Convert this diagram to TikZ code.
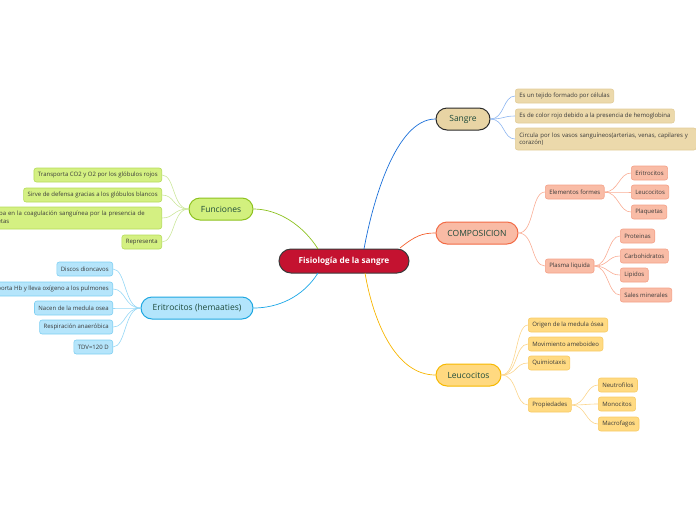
\documentclass[tikz,border=0pt]{standalone}
\usepackage{fontspec}
\setmainfont{Open Sans}
\hyphenpenalty=10000
\exhyphenpenalty=10000
\definecolor{centralfill}{HTML}{C41230}
\definecolor{centralline}{HTML}{3A3A3A}
\definecolor{maintxt}{HTML}{1D4A3A}
\definecolor{childtxt}{HTML}{3A3A3A}
% Sangre
\definecolor{sgfill}{HTML}{E8D4A4}
\definecolor{sgline}{HTML}{2A2A2A}
\definecolor{sgcfill}{HTML}{ECD9AB}
\definecolor{sgcline}{HTML}{E2CC98}
\definecolor{sgconn}{HTML}{1A6FD9}
\definecolor{sgcconn}{HTML}{8DB6F0}
% Composicion
\definecolor{cpfill}{HTML}{F9BBA5}
\definecolor{cpline}{HTML}{F26A45}
\definecolor{cpcfill}{HTML}{F9BCA6}
\definecolor{cpcline}{HTML}{F4A188}
\definecolor{cpconn}{HTML}{F4602E}
\definecolor{cpcconn}{HTML}{F9AD95}
% Leucocitos
\definecolor{lcfill}{HTML}{FFD980}
\definecolor{lcline}{HTML}{F6B800}
\definecolor{lccfill}{HTML}{FFDA82}
\definecolor{lccline}{HTML}{F8CB65}
\definecolor{lcconn}{HTML}{F7B500}
\definecolor{lccconn}{HTML}{FBD58C}
% Funciones
\definecolor{fnfill}{HTML}{D2F07E}
\definecolor{fnline}{HTML}{8DC21F}
\definecolor{fncfill}{HTML}{D4F082}
\definecolor{fncline}{HTML}{B5DC5A}
\definecolor{fnconn}{HTML}{8CC21F}
\definecolor{fncconn}{HTML}{CBE79A}
% Eritrocitos
\definecolor{erfill}{HTML}{B3E5FC}
\definecolor{erline}{HTML}{1EA7E1}
\definecolor{ercfill}{HTML}{B5E5FB}
\definecolor{ercline}{HTML}{7FCFF2}
\definecolor{erconn}{HTML}{1AA6E6}
\definecolor{ercconn}{HTML}{95D7F5}
\begin{document}
\begin{tikzpicture}[x=1pt,y=-1pt,
  childbox/.style={draw, rounded corners=2.5pt, minimum height=14pt, inner xsep=4pt, inner ysep=0pt,
    font=\fontsize{6}{7.6}\selectfont, text=childtxt, line width=0.6pt},
  mainbox/.style={draw, rounded corners=11pt, minimum height=22pt, inner sep=0pt, line width=1pt,
    font=\fontsize{8.5}{10}\selectfont, text=maintxt},
  sgc/.style={childbox, fill=sgcfill, draw=sgcline},
  cpc/.style={childbox, fill=cpcfill, draw=cpcline},
  lcc/.style={childbox, fill=lccfill, draw=lccline},
  fnc/.style={childbox, fill=fncfill, draw=fncline},
  erc/.style={childbox, fill=ercfill, draw=ercline},
  rconn/.style={line width=0.7pt},
  lk/.style={line width=0.6pt},
]
\useasboundingbox (0,0) rectangle (696,520);
\clip (0,0) rectangle (696,520);

% central
\node[draw=centralline, fill=centralfill, text=white, rounded corners=12pt, minimum width=130pt, minimum height=24pt,
  inner sep=0pt, line width=1pt, font=\fontsize{8.3}{10}\selectfont\bfseries] (c) at (344,261) {Fisiología de la sangre};

% main branches
\node[mainbox, fill=sgfill, draw=sgline, minimum width=54pt] (sg) at (463,119) {Sangre};
\node[mainbox, fill=cpfill, draw=cpline, minimum width=82pt] (cp) at (477,233) {COMPOSICION};
\node[mainbox, fill=lcfill, draw=lcline, minimum width=65pt] (lc) at (468.5,375) {Leucocitos};
\node[mainbox, fill=fnfill, draw=fnline, minimum width=64pt] (fn) at (221,209) {Funciones};
\node[mainbox, fill=erfill, draw=erline, minimum width=112pt] (er) at (197,308) {Eritrocitos (hemaaties)};

% main connectors
\coordinate (cs) at (364,249);
\coordinate (co) at (400,248);
\coordinate (cl) at (365,273);
\coordinate (cf) at (318,249);
\coordinate (ce) at (318,273);
\draw[rconn, sgconn] (cs) .. controls (372,205) and (395,119) .. (sg.west);
\draw[rconn, cpconn] (co) .. controls (415,236) and (422,233) .. (cp.west);
\draw[rconn, lcconn] (cl) .. controls (373,320) and (395,375) .. (lc.west);
\draw[rconn, fnconn] (cf) .. controls (303,225) and (278,209) .. (fn.east);
\draw[rconn, erconn] (ce) .. controls (303,297) and (278,308) .. (er.east);

% Sangre children
\node[sgc, anchor=west] (s1) at (515,96) {Es un tejido formado por células};
\node[sgc, anchor=west] (s2) at (515,116) {Es de color rojo debido a la presencia de hemoglobina};
\node[sgc, anchor=west, align=left, text width=173pt, inner ysep=2pt, minimum height=22pt] (s3) at (515,139)
  {Circula por los vasos sanguíneos(arterias, venas, capilares y corazón)};
\foreach \n in {s1,s2,s3}
  \draw[lk, sgcconn] (sg.east) .. controls +(14,0) and +(-12,0) .. (\n.west);

% Composicion children
\node[cpc, anchor=west] (ef) at (545,192) {Elementos formes};
\node[cpc, anchor=west] (pl) at (545,266) {Plasma liquida};
\foreach \n in {ef,pl}
  \draw[lk, cpcconn] (cp.east) .. controls +(16,0) and +(-14,0) .. (\n.west);
\node[cpc, anchor=west] (e1) at (631,173) {Eritrocitos};
\node[cpc, anchor=west] (e2) at (631,192) {Leucocitos};
\node[cpc, anchor=west] (e3) at (631,212) {Plaquetas};
\foreach \n in {e1,e2,e3}
  \draw[lk, cpcconn] (ef.east) .. controls +(14,0) and +(-12,0) .. (\n.west);
\node[cpc, anchor=west] (p1) at (620,236) {Proteinas};
\node[cpc, anchor=west] (p2) at (620,256) {Carbohidratos};
\node[cpc, anchor=west] (p3) at (620,275) {Lipidos};
\node[cpc, anchor=west] (p4) at (620,295) {Sales minerales};
\foreach \n in {p1,p2,p3,p4}
  \draw[lk, cpcconn] (pl.east) .. controls +(14,0) and +(-12,0) .. (\n.west);

% Leucocitos children
\node[lcc, anchor=west] (l1) at (528,325) {Origen de la medula ósea};
\node[lcc, anchor=west] (l2) at (528,344) {Movimiento ameboideo};
\node[lcc, anchor=west] (l3) at (528,363) {Quimiotaxis};
\node[lcc, anchor=west] (l4) at (528,405) {Propiedades};
\foreach \n in {l1,l2,l3,l4}
  \draw[lk, lccconn] (lc.east) .. controls +(16,0) and +(-13,0) .. (\n.west);
\node[lcc, anchor=west] (q1) at (598,385) {Neutrofilos};
\node[lcc, anchor=west] (q2) at (598,404) {Monocitos};
\node[lcc, anchor=west] (q3) at (598,424) {Macrofagos};
\foreach \n in {q1,q2,q3}
  \draw[lk, lccconn] (l4.east) .. controls +(14,0) and +(-12,0) .. (\n.west);

% Funciones children
\node[fnc, anchor=east] (f1) at (162,175) {Transporta CO2 y O2 por los glóbulos rojos};
\node[fnc, anchor=east] (f2) at (162,195) {Sirve de defensa gracias a los glóbulos blancos};
\node[fnc, anchor=east, align=left, text width=176pt, inner ysep=2pt, minimum height=22pt] (f3) at (162,218)
  {Participa en la coagulación sanguínea por la presencia de plaquetas};
\node[fnc, anchor=east] (f4) at (162,242) {Representa};
\foreach \n in {f1,f2,f3,f4}
  \draw[lk, fncconn] (fn.west) .. controls +(-16,0) and +(13,0) .. (\n.east);

% Eritrocitos children
\node[erc, anchor=east] (r1) at (113,269) {Discos dioncavos};
\node[erc, anchor=east] (r2) at (113,289) {Transporta Hb y lleva oxígeno a los pulmones};
\node[erc, anchor=east] (r3) at (113,308) {Nacen de la medula osea};
\node[erc, anchor=east] (r4) at (113,327) {Respiración anaeróbica};
\node[erc, anchor=east] (r5) at (113,347) {TDV=120 D};
\foreach \n in {r1,r2,r3,r4,r5}
  \draw[lk, ercconn] (er.west) .. controls +(-16,0) and +(13,0) .. (\n.east);
\end{tikzpicture}
\end{document}
